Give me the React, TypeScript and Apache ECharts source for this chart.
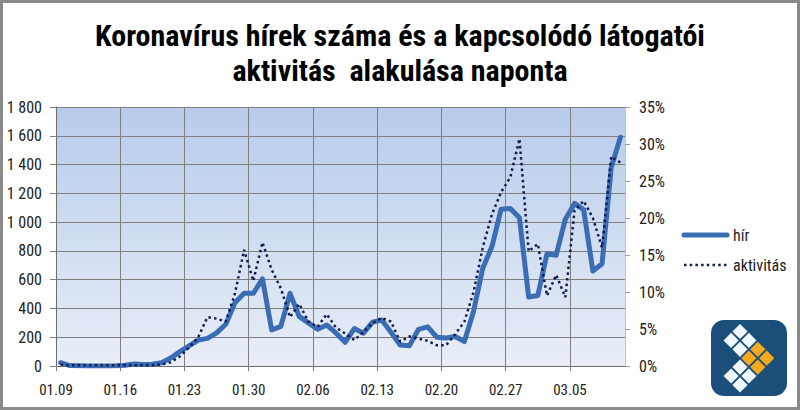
import React, { useEffect, useRef } from "react";
import * as echarts from "echarts";

const dates: string[] = [
  "01.09","01.10","01.11","01.12","01.13","01.14","01.15",
  "01.16","01.17","01.18","01.19","01.20","01.21","01.22",
  "01.23","01.24","01.25","01.26","01.27","01.28","01.29",
  "01.30","01.31","02.01","02.02","02.03","02.04","02.05",
  "02.06","02.07","02.08","02.09","02.10","02.11","02.12",
  "02.13","02.14","02.15","02.16","02.17","02.18","02.19",
  "02.20","02.21","02.22","02.23","02.24","02.25","02.26",
  "02.27","02.28","02.29","03.01","03.02","03.03","03.04",
  "03.05","03.06","03.07","03.08","03.09","03.10",
];

const hir: number[] = [
  23, 3, 1, 0, 0, 0, 1,
  5, 14, 10, 12, 23, 55, 100,
  140, 180, 192, 230, 290, 440, 505,
  505, 605, 250, 275, 505, 345, 300,
  255, 285, 230, 165, 260, 228, 305,
  320, 235, 146, 140, 255, 272, 200,
  195, 205, 170, 380, 680, 830, 1090,
  1095, 1030, 480, 490, 780, 770, 1020,
  1130, 1085, 660, 710, 1380, 1590,
];

// percent
const aktivitas: number[] = [
  0.2, 0.1, 0.1, 0.1, 0.1, 0.1, 0.1,
  0.1, 0.1, 0.1, 0.1, 0.2, 0.5, 1.3,
  2.5, 3.9, 6.6, 6.4, 6.0, 9.8, 15.7,
  11.5, 16.7, 13.0, 10.5, 6.6, 8.4, 6.0,
  5.3, 7.0, 5.2, 4.4, 3.5, 4.6, 5.8,
  6.5, 6.0, 3.3, 4.0, 3.7, 3.4, 2.8,
  2.8, 4.3, 6.0, 10.0, 16.0, 20.5, 23.5,
  25.5, 30.7, 15.5, 16.5, 9.5, 12.3, 9.3,
  21.0, 22.3, 20.0, 16.0, 28.3, 27.5,
];

const seriesNames = ["hír", "aktivitás"];
const titleText = "Koronavírus hírek száma és a kapcsolódó látogatói\naktivitás  alakulása naponta";

const FONT = "Roboto;font-stretch:condensed";
const BLUE = "#3b6db4";
const NAVY = "#121c4e";

// logo diamond lattice (a, b) and colour kind
const logoCells: [number, number, string][] = [
  [0, 0, "w"], [0, 1, "w"], [1, 0, "w"], [1, 1, "w"],
  [2, 0, "o"], [2, 1, "o"], [3, 0, "o"], [3, 1, "o"],
  [2, 2, "w"], [2, 3, "w"], [3, 2, "w"], [3, 3, "w"],
];

export default function App() {
  const ref = useRef<HTMLDivElement>(null);

  useEffect(() => {
    document.body.style.margin = "0";
    if (!ref.current) return;
    const chart = echarts.init(ref.current, null, { renderer: "svg" });

    const n = dates.length;
    const lx = 740, ly = 331.5, d = 8.9, h = 7.6;
    const diamonds = logoCells.map(([a, b, k]) => {
      const cx = lx + d * (a - b);
      const cy = ly + d * (a + b);
      return {
        type: "polygon",
        shape: { points: [[cx, cy - h], [cx + h, cy], [cx, cy + h], [cx - h, cy]] },
        style: { fill: k === "o" ? "#f5a91e" : "#eef7fc" },
        z: 11,
      };
    });

    chart.setOption({
      animation: false,
      backgroundColor: "#ffffff",
      grid: {
        left: 56,
        right: 175,
        top: 107,
        bottom: 44,
        show: true,
        borderWidth: 0,
        backgroundColor: new echarts.graphic.LinearGradient(0, 0, 0, 1, [
          { offset: 0, color: "#b7cbea" },
          { offset: 1, color: "#e9eef7" },
        ]),
      },
      xAxis: {
        type: "value",
        min: 0,
        max: n,
        interval: 7,
        axisLine: { show: true, lineStyle: { color: "#6f6f6f", width: 1 } },
        axisTick: { show: true, length: 5, lineStyle: { color: "#7f7f7f" } },
        splitLine: { show: true, lineStyle: { color: "#7f7f7f", width: 1 } },
        axisLabel: {
          showMaxLabel: false,
          margin: 19,
          fontFamily: FONT,
          fontSize: 15,
          color: "#222",
          formatter: (v: number) => (v % 7 === 0 && v < n ? dates[v] : ""),
        },
      },
      yAxis: [
        {
          type: "value",
          min: 0,
          max: 1800,
          interval: 200,
          axisLine: { show: true, lineStyle: { color: "#6f6f6f" } },
          axisTick: { show: true, length: 6, lineStyle: { color: "#7f7f7f" } },
          splitLine: { show: true, lineStyle: { color: "#7f7f7f", width: 1 } },
          axisLabel: {
            margin: 14,
            fontFamily: FONT,
            fontSize: 16,
            color: "#222",
            formatter: (v: number) =>
              v >= 1000 ? Math.floor(v / 1000) + " " + String(v % 1000).padStart(3, "0") : String(v),
          },
        },
        {
          type: "value",
          min: 0,
          max: 35,
          interval: 5,
          position: "right",
          axisLine: { show: true, lineStyle: { color: "#c4c4c4" } },
          axisTick: { show: true, length: 5, lineStyle: { color: "#9f9f9f" } },
          splitLine: { show: false },
          axisLabel: {
            margin: 14,
            fontFamily: FONT,
            fontSize: 16,
            color: "#222",
            formatter: "{value}%",
          },
        },
      ],
      series: [
        {
          name: seriesNames[0],
          type: "line",
          yAxisIndex: 0,
          symbol: "none",
          data: hir.map((v, i) => [i + 0.5, v]),
          lineStyle: { color: BLUE, width: 5, join: "round", cap: "round" },
          itemStyle: { color: BLUE },
          z: 3,
        },
        {
          name: seriesNames[1],
          type: "line",
          yAxisIndex: 1,
          symbol: "none",
          data: aktivitas.map((v, i) => [i + 0.5, v]),
          lineStyle: { color: NAVY, width: 2.5, type: [2.5, 3.2] },
          itemStyle: { color: NAVY },
          z: 4,
        },
      ],
      graphic: [
        {
          type: "text",
          x: 400,
          y: 18,
          style: {
            text: titleText,
            textAlign: "center",
            fontFamily: FONT,
            fontSize: 30,
            fontWeight: "bold",
            lineHeight: 35,
            fill: "#000",
          },
        },
        // legend
        {
          type: "line",
          shape: { x1: 684, y1: 235, x2: 727, y2: 235 },
          style: { stroke: BLUE, lineWidth: 5, lineCap: "round" },
        },
        {
          type: "text",
          x: 733,
          y: 235,
          style: { text: seriesNames[0], fontFamily: FONT, fontSize: 16, fill: "#222", textVerticalAlign: "middle" },
        },
        {
          type: "line",
          shape: { x1: 684, y1: 265, x2: 727, y2: 265 },
          style: { stroke: NAVY, lineWidth: 2.5, lineDash: [2.5, 3.2] },
        },
        {
          type: "text",
          x: 733,
          y: 265,
          style: { text: seriesNames[1], fontFamily: FONT, fontSize: 16, fill: "#222", textVerticalAlign: "middle" },
        },
        // logo
        {
          type: "rect",
          shape: { x: 711, y: 320, width: 76, height: 76, r: 13 },
          style: { fill: "#1c4e7a" },
          z: 10,
        },
        ...diamonds,
        {
          type: "rect",
          shape: { x: 1.5, y: 1.5, width: 797, height: 407 },
          style: { fill: "none", stroke: "#8a8a8a", lineWidth: 3 },
          z: 20,
        },
      ],
    });

    return () => chart.dispose();
  }, []);

  return <div ref={ref} style={{ width: 800, height: 410 }} />;
}
